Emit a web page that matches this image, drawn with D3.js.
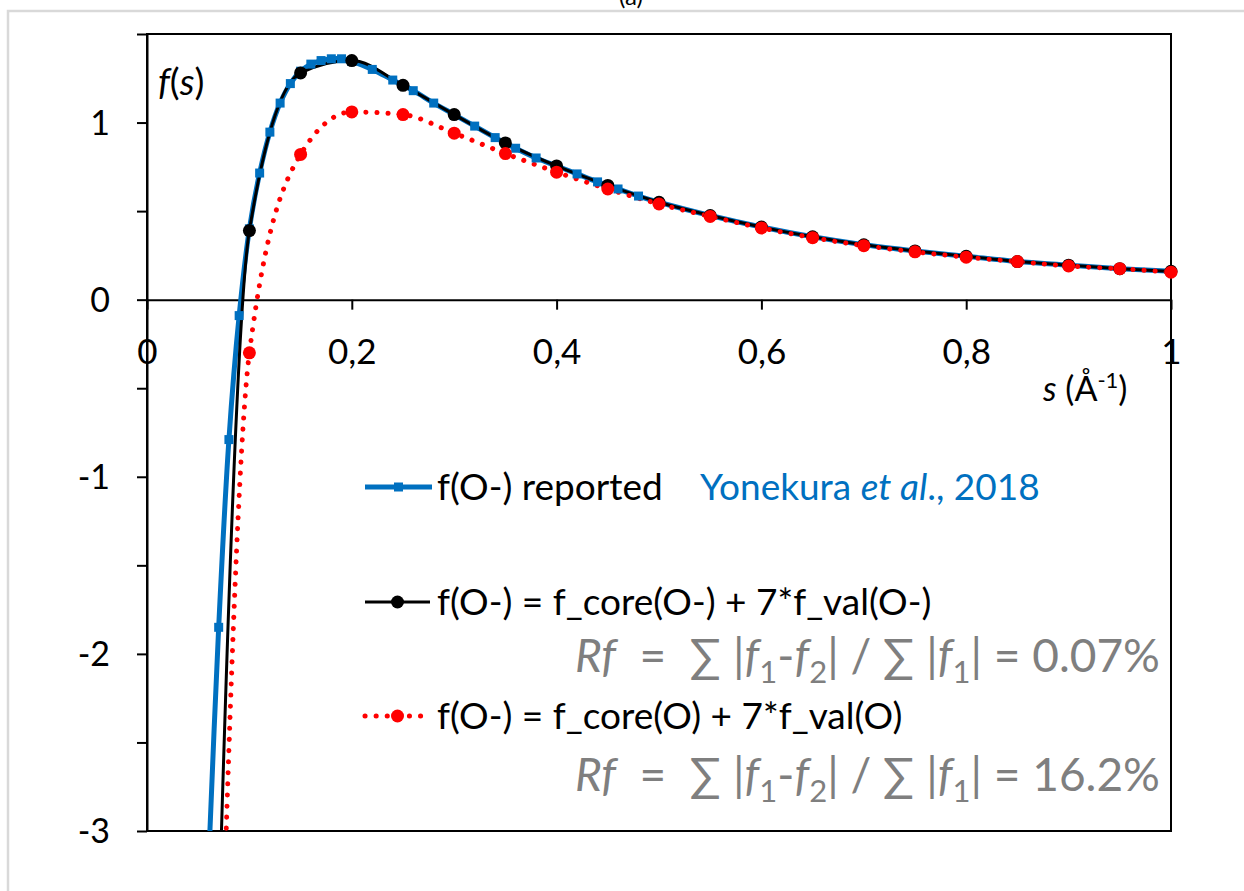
<!DOCTYPE html>
<html>
<head>
<meta charset="utf-8">
<script src="https://cdn.jsdelivr.net/npm/d3@7"></script>
<style>
  body { margin: 0; background: #fff; }
  svg { display: block; font-family: Lato, "Open Sans", sans-serif; }
</style>
</head>
<body>
<div id="chart"></div>
<script>
// data
const sReported = [0.06, 0.07, 0.08, 0.09, 0.10, 0.11, 0.12, 0.13, 0.14, 0.15, 0.16, 0.17, 0.18, 0.19, 0.20,
                   0.22, 0.24, 0.26, 0.28, 0.30, 0.32, 0.34, 0.36, 0.38, 0.40, 0.42, 0.44, 0.46, 0.48, 0.50,
                   0.55, 0.60, 0.65, 0.70, 0.75, 0.80, 0.85, 0.90, 0.95, 1.00];
const fReported = [-3.2, -1.85, -0.79, -0.09, 0.40, 0.715, 0.946, 1.11, 1.22, 1.29, 1.33, 1.35, 1.36, 1.36, 1.345,
                   1.30, 1.24, 1.18, 1.11, 1.045, 0.98, 0.915, 0.855, 0.80, 0.755, 0.71, 0.665, 0.625, 0.585, 0.55,
                   0.475, 0.41, 0.355, 0.31, 0.275, 0.245, 0.215, 0.195, 0.175, 0.16];

const sCalc = [0.05, 0.10, 0.15, 0.20, 0.25, 0.30, 0.35, 0.40, 0.45, 0.50,
               0.55, 0.60, 0.65, 0.70, 0.75, 0.80, 0.85, 0.90, 0.95, 1.00];
const fIon  = [-8.0, 0.39, 1.28, 1.35, 1.21, 1.045, 0.885, 0.755, 0.645, 0.55,
               0.475, 0.41, 0.355, 0.31, 0.275, 0.245, 0.215, 0.195, 0.175, 0.16];
const fAtom = [-9.0, -0.30, 0.82, 1.06, 1.045, 0.94, 0.825, 0.72, 0.625, 0.54,
               0.47, 0.405, 0.35, 0.305, 0.27, 0.24, 0.215, 0.19, 0.175, 0.155];

const xTicks = [0, 0.2, 0.4, 0.6, 0.8, 1];
const yTicks = [-3, -2.5, -2, -1.5, -1, -0.5, 0, 0.5, 1, 1.5];

const W = 1244, H = 891;
const plot = {left: 147, right: 1171, top: 34, bottom: 831};

const svg = d3.select("#chart").append("svg")
    .attr("width", W)
    .attr("height", H);

// chart area frame (only top/left edge visible) and cut-off caption
svg.append("rect")
    .attr("x", 8).attr("y", 11)
    .attr("width", W + 20).attr("height", H + 20)
    .attr("fill", "none")
    .attr("stroke", "#d9d9d9")
    .attr("stroke-width", 2.5);

svg.append("text")
    .attr("x", 631).attr("y", 5)
    .attr("text-anchor", "middle")
    .attr("font-size", 24)
    .text("(a)");

const x = d3.scaleLinear().domain([0, 1]).range([plot.left, plot.right]);
const y = d3.scaleLinear().domain([-3, 1.5]).range([plot.bottom, plot.top]);

svg.append("defs").append("clipPath")
    .attr("id", "clip")
  .append("rect")
    .attr("x", plot.left).attr("y", plot.top)
    .attr("width", plot.right - plot.left)
    .attr("height", plot.bottom - plot.top);

// plot area border
svg.append("rect")
    .attr("x", plot.left).attr("y", plot.top)
    .attr("width", plot.right - plot.left)
    .attr("height", plot.bottom - plot.top)
    .attr("fill", "none")
    .attr("stroke", "#000")
    .attr("stroke-width", 2);

// y axis
let yAxis = svg.append("g")
    .attr("transform", "translate(" + plot.left + ",0)")
    .call(d3.axisLeft(y).tickValues(yTicks).tickSize(10).tickSizeOuter(0)
        .tickFormat(d => Number.isInteger(d) ? (d < 0 ? "-" + Math.abs(d) : d) : ""));
yAxis.select(".domain").attr("stroke-width", 2);
yAxis.selectAll(".tick line").attr("stroke-width", 2);
yAxis.selectAll(".tick text")
    .attr("x", -37)
    .attr("dy", "0.35em")
    .attr("font-size", 34)
    .attr("font-family", "Lato");

// x axis crossing at 0
let xAxis = svg.append("g")
    .attr("transform", "translate(0," + y(0) + ")")
    .call(d3.axisBottom(x).tickValues(xTicks).tickSize(10).tickSizeOuter(0)
        .tickFormat(d => (d === 0 || d === 1) ? String(d) : d3.format(".1f")(d).replace(".", ",")));
xAxis.select(".domain").attr("stroke-width", 2);
xAxis.selectAll(".tick line").attr("stroke-width", 2);
xAxis.selectAll(".tick text")
    .attr("y", 64)
    .attr("dy", 0)
    .attr("font-size", 35)
    .attr("font-family", "Lato");

// axis titles
let fs = svg.append("text").attr("x", 158).attr("y", 95).attr("font-size", 37);
fs.append("tspan").attr("font-style", "italic").text("f");
fs.append("tspan").text("(");
fs.append("tspan").attr("font-style", "italic").text("s");
fs.append("tspan").text(")");

let sl = svg.append("text").attr("x", 1043).attr("y", 401).attr("font-size", 34);
sl.append("tspan").attr("font-style", "italic").text("s");
sl.append("tspan").text(" (Å");
sl.append("tspan").attr("dy", -13).attr("font-size", 22).text("-1");
sl.append("tspan").attr("dy", 13).text(")");

// series
const reported = sReported.map((s, i) => ({s: s, f: fReported[i]}));
const ion = sCalc.map((s, i) => ({s: s, f: fIon[i]}));
const atom = sCalc.map((s, i) => ({s: s, f: fAtom[i]}));
const inside = d => d.f >= -3 && d.f <= 1.5;

const smooth = d3.line().x(d => x(d.s)).y(d => y(d.f)).curve(d3.curveCatmullRom.alpha(0.5));
const monotone = d3.line().x(d => x(d.s)).y(d => y(d.f)).curve(d3.curveMonotoneX);

let lines = svg.append("g").attr("clip-path", "url(#clip)");

lines.append("path")
    .datum(reported)
    .attr("d", smooth)
    .attr("fill", "none")
    .attr("stroke", "#0070c0")
    .attr("stroke-width", 5);

svg.append("g").selectAll("rect")
    .data(reported.filter(inside))
    .enter().append("rect")
    .attr("x", d => x(d.s) - 4.5)
    .attr("y", d => y(d.f) - 4.5)
    .attr("width", 9)
    .attr("height", 9)
    .attr("fill", "#0070c0");

lines.append("path")
    .datum(ion)
    .attr("d", monotone)
    .attr("fill", "none")
    .attr("stroke", "#000")
    .attr("stroke-width", 3);

svg.append("g").selectAll("circle")
    .data(ion.filter(inside))
    .enter().append("circle")
    .attr("cx", d => x(d.s))
    .attr("cy", d => y(d.f))
    .attr("r", 6.5)
    .attr("fill", "#000");

lines.append("path")
    .datum(atom)
    .attr("d", monotone)
    .attr("fill", "none")
    .attr("stroke", "#ff0000")
    .attr("stroke-width", 5)
    .attr("stroke-linecap", "round")
    .attr("stroke-dasharray", "0.1 11");

svg.append("g").selectAll("circle")
    .data(atom.filter(inside))
    .enter().append("circle")
    .attr("cx", d => x(d.s))
    .attr("cy", d => y(d.f))
    .attr("r", 6.5)
    .attr("fill", "#ff0000");

// legend
const legendX = 365;
let lg = svg.append("g");

lg.append("line")
    .attr("x1", legendX).attr("x2", legendX + 67)
    .attr("y1", 487).attr("y2", 487)
    .attr("stroke", "#0070c0").attr("stroke-width", 5);
lg.append("rect")
    .attr("x", legendX + 33.5 - 4.5).attr("y", 487 - 4.5)
    .attr("width", 9).attr("height", 9)
    .attr("fill", "#0070c0");
lg.append("text")
    .attr("x", 437).attr("y", 500)
    .attr("font-size", 37)
    .text("f(O-) reported");
let ref = lg.append("text")
    .attr("x", 700).attr("y", 500)
    .attr("font-size", 37)
    .attr("fill", "#0070c0");
ref.append("tspan").text("Yonekura ");
ref.append("tspan").attr("font-style", "italic").text("et al");
ref.append("tspan").text("., 2018");

lg.append("line")
    .attr("x1", legendX).attr("x2", legendX + 65)
    .attr("y1", 602).attr("y2", 602)
    .attr("stroke", "#000").attr("stroke-width", 3);
lg.append("circle")
    .attr("cx", legendX + 32.5).attr("cy", 602).attr("r", 6.5)
    .attr("fill", "#000");
lg.append("text")
    .attr("x", 437).attr("y", 615)
    .attr("font-size", 37)
    .text("f(O-) = f_core(O-) + 7*f_val(O-)");

lg.append("line")
    .attr("x1", legendX).attr("x2", legendX + 65)
    .attr("y1", 716).attr("y2", 716)
    .attr("stroke", "#ff0000").attr("stroke-width", 5)
    .attr("stroke-linecap", "round")
    .attr("stroke-dasharray", "0.1 11");
lg.append("circle")
    .attr("cx", legendX + 32.5).attr("cy", 716).attr("r", 6.5)
    .attr("fill", "#ff0000");
lg.append("text")
    .attr("x", 437).attr("y", 729)
    .attr("font-size", 37)
    .text("f(O-) = f_core(O) + 7*f_val(O)");

// R factor annotations
const rfValues = ["0.07%", "16.2%"];
const rfY = [672, 791];

function rfText(yPos, value) {
    let t = svg.append("text")
        .attr("x", 1160).attr("y", yPos)
        .attr("text-anchor", "end")
        .attr("font-size", 46)
        .attr("fill", "#7f7f7f")
        .attr("xml:space", "preserve");
    t.append("tspan").attr("font-style", "italic").text("Rf");
    t.append("tspan").text("  =  \u2211 |");
    t.append("tspan").attr("font-style", "italic").text("f");
    t.append("tspan").attr("dy", 11).attr("font-size", 31).text("1");
    t.append("tspan").attr("dy", -11).text("-");
    t.append("tspan").attr("font-style", "italic").text("f");
    t.append("tspan").attr("dy", 11).attr("font-size", 31).text("2");
    t.append("tspan").attr("dy", -11).text("| / \u2211 |");
    t.append("tspan").attr("font-style", "italic").text("f");
    t.append("tspan").attr("dy", 11).attr("font-size", 31).text("1");
    t.append("tspan").attr("dy", -11).text("| = " + value);
}

rfValues.forEach((v, i) => rfText(rfY[i], v));
</script>
</body>
</html>
